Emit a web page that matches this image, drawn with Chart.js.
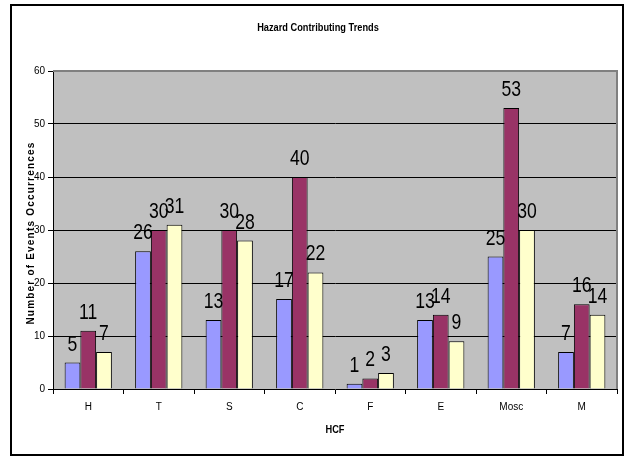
<!DOCTYPE html>
<html>
<head>
<meta charset="utf-8">
<script src="https://cdn.jsdelivr.net/npm/chart.js@4/dist/chart.umd.min.js"></script>
<style>
  html, body { margin: 0; padding: 0; background: #ffffff; }
  #wrap { width: 627px; height: 461px; position: relative; }
</style>
</head>
<body>
<div id="wrap"><canvas id="chart" width="627" height="461"></canvas></div>
<script>
// Hazard contributing factors and the three series of event counts
const categories = ['H', 'T', 'S', 'C', 'F', 'E', 'Mosc', 'M'];
const seriesA = [5, 26, 13, 17, 1, 13, 25, 7];
const seriesB = [11, 30, 30, 40, 2, 14, 53, 16];
const seriesC = [7, 31, 28, 22, 3, 9, 30, 14];
const yTicks = [0, 10, 20, 30, 40, 50, 60];

const chartTitle = 'Hazard Contributing Trends';
const xTitle = 'HCF';
const yTitle = 'Number of Events Occurrences';

const SANS = '"Liberation Sans", Arial, sans-serif';

// Draw text squeezed horizontally to mimic a condensed face
function narrowText(ctx, text, x, y, squeeze) {
  ctx.save();
  ctx.translate(x, y);
  ctx.scale(squeeze, 1);
  ctx.fillText(text, 0, 0);
  ctx.restore();
}

// Outer frame, grey plot background and plot border
const framePlugin = {
  id: 'frame',
  beforeDraw(chart) {
    const { ctx, chartArea: a } = chart;
    ctx.save();
    ctx.fillStyle = '#ffffff';
    ctx.fillRect(0, 0, chart.width, chart.height);
    ctx.strokeStyle = '#000000';
    ctx.lineWidth = 2;
    ctx.strokeRect(11, 5, 612, 450);
    ctx.fillStyle = '#c0c0c0';
    ctx.fillRect(a.left, a.top, a.right - a.left, a.bottom - a.top);
    ctx.restore();
  },
  afterDatasetsDraw(chart) {
    const { ctx, chartArea: a } = chart;
    ctx.save();
    ctx.strokeStyle = '#808080';
    ctx.lineWidth = 2;
    ctx.beginPath();
    ctx.moveTo(a.left, a.top);
    ctx.lineTo(a.right, a.top);
    ctx.lineTo(a.right, a.bottom);
    ctx.stroke();
    ctx.restore();
  }
};

// Value labels above every bar
const valueLabels = {
  id: 'valueLabels',
  afterDatasetsDraw(chart) {
    const { ctx } = chart;
    ctx.save();
    ctx.fillStyle = '#000000';
    ctx.font = '22px ' + SANS;
    ctx.textAlign = 'center';
    ctx.textBaseline = 'alphabetic';
    chart.data.datasets.forEach((ds, i) => {
      chart.getDatasetMeta(i).data.forEach((bar, j) => {
        narrowText(ctx, String(ds.data[j]), bar.x, bar.y - 12, 0.8);
      });
    });
    ctx.restore();
  }
};

// Chart title and axis titles
const titles = {
  id: 'titles',
  afterDraw(chart) {
    const { ctx, chartArea: a } = chart;
    ctx.save();
    ctx.fillStyle = '#000000';
    ctx.textAlign = 'center';
    ctx.textBaseline = 'middle';
    ctx.font = 'bold 11px ' + SANS;
    narrowText(ctx, chartTitle, 318, 28, 0.84);
    narrowText(ctx, xTitle, (a.left + a.right) / 2, 430, 0.84);
    ctx.translate(31, 233);
    ctx.rotate(-Math.PI / 2);
    ctx.font = 'bold 10px ' + SANS;
    ctx.letterSpacing = '1.2px';
    ctx.fillText(yTitle, 0, 0);
    ctx.restore();
  }
};

new Chart(document.getElementById('chart'), {
  type: 'bar',
  data: {
    labels: categories,
    datasets: [
      { label: 'A', data: seriesA, backgroundColor: '#9999ff', borderColor: '#000000', borderWidth: 1 },
      { label: 'B', data: seriesB, backgroundColor: '#993366', borderColor: '#000000', borderWidth: 1 },
      { label: 'C', data: seriesC, backgroundColor: '#ffffcc', borderColor: '#000000', borderWidth: 1 }
    ]
  },
  options: {
    responsive: false,
    animation: false,
    devicePixelRatio: 1,
    layout: { padding: { left: 0, right: 10, top: 71, bottom: 0 } },
    datasets: { bar: { categoryPercentage: 0.67, barPercentage: 1.0 } },
    plugins: {
      legend: { display: false },
      title: { display: false },
      tooltip: { enabled: false }
    },
    scales: {
      x: {
        grid: { drawOnChartArea: false, drawTicks: true, tickLength: 5, tickColor: '#000000', offset: true },
        border: { display: true, color: '#000000', width: 1 },
        ticks: { color: '#000000', font: { family: SANS, size: 10 }, padding: 7, maxRotation: 0 },
        afterFit(s) { s.height = 72; }
      },
      y: {
        min: 0,
        max: 60,
        afterBuildTicks(s) { s.ticks = yTicks.map(v => ({ value: v })); },
        grid: {
          color: c => (c.tick && c.tick.value > 0 && c.tick.value < 60) ? '#000000' : 'rgba(0,0,0,0)',
          lineWidth: 1,
          tickLength: 5,
          tickColor: '#000000'
        },
        border: { display: true, color: '#000000', width: 1 },
        ticks: { color: '#000000', font: { family: SANS, size: 10 }, padding: 3 },
        afterFit(s) { s.width = 53; }
      }
    }
  },
  plugins: [framePlugin, valueLabels, titles]
});
</script>
</body>
</html>
